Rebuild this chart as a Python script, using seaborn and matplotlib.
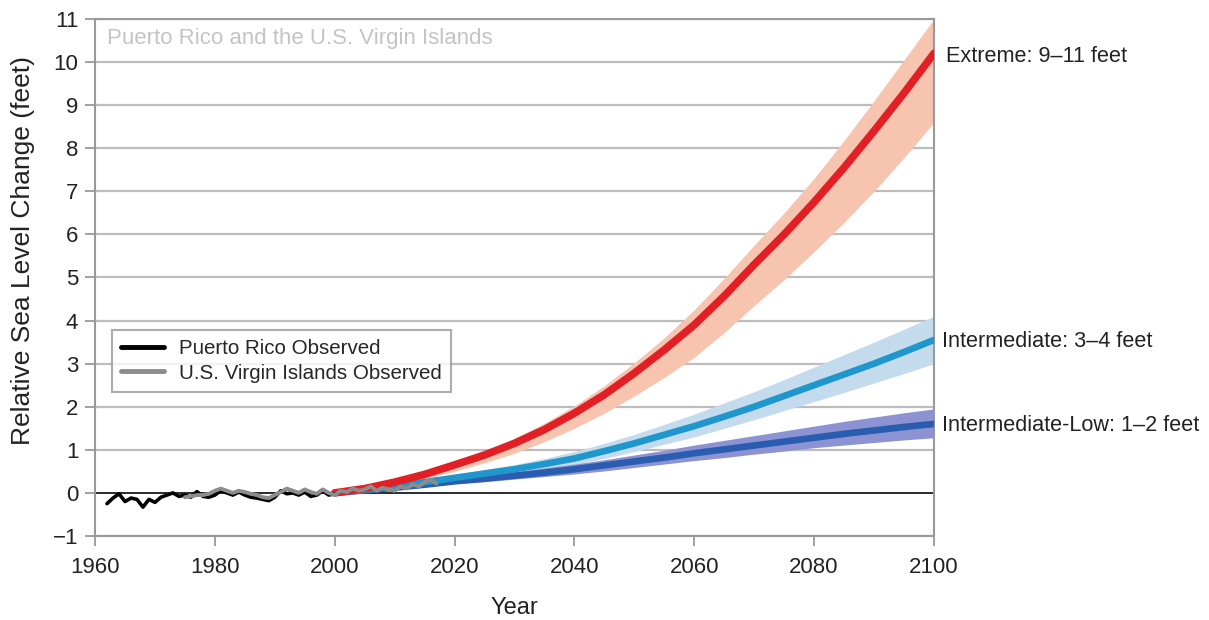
import numpy as np
import pandas as pd
import matplotlib
matplotlib.use("Agg")
import matplotlib.pyplot as plt
import seaborn as sns

# Observed relative sea level (feet)
pr_years = list(range(1962, 2001))
pr_values = [-0.25, -0.12, -0.02, -0.20, -0.12, -0.15, -0.33, -0.15, -0.22, -0.10,
             -0.05, 0.00, -0.08, -0.05, -0.10, 0.03, -0.08, -0.10, -0.05, 0.05,
             0.00, -0.05, 0.02, -0.05, -0.10, -0.12, -0.15, -0.18, -0.10, 0.05,
             -0.02, 0.00, -0.05, 0.02, -0.08, -0.05, 0.05, -0.05, -0.02]

vi_years = list(range(1975, 2018))
vi_values = [-0.10, -0.08, -0.05, -0.05, -0.02, 0.05, 0.10, 0.05, 0.00, 0.05,
             0.02, -0.02, -0.05, -0.10, -0.12, -0.05, 0.02, 0.10, 0.05, 0.00,
             0.08, 0.02, -0.02, 0.08, 0.00, -0.05, 0.05, 0.02, 0.10, 0.05,
             0.08, 0.15, 0.05, 0.12, 0.08, 0.05, 0.15, 0.10, 0.20, 0.15,
             0.25, 0.30, 0.22]

# Scenario projections (feet), every 5 years
proj_years = list(range(2000, 2101, 5))
extreme_mid = [0.00, 0.10, 0.25, 0.43, 0.65, 0.88, 1.15, 1.47, 1.85, 2.28, 2.78,
               3.32, 3.90, 4.57, 5.30, 6.00, 6.75, 7.55, 8.40, 9.28, 10.20]
extreme_hi = [0.05, 0.15, 0.30, 0.50, 0.72, 0.97, 1.27, 1.62, 2.02, 2.49, 3.02,
              3.60, 4.25, 4.98, 5.75, 6.50, 7.30, 8.18, 9.10, 10.05, 11.00]
extreme_lo = [-0.05, 0.06, 0.18, 0.33, 0.50, 0.70, 0.92, 1.19, 1.50, 1.85, 2.25,
              2.68, 3.15, 3.72, 4.35, 4.95, 5.60, 6.28, 7.00, 7.78, 8.60]

inter_mid = [0.00, 0.07, 0.15, 0.25, 0.35, 0.45, 0.55, 0.67, 0.80, 0.97, 1.15,
             1.35, 1.55, 1.77, 2.00, 2.25, 2.50, 2.75, 3.00, 3.27, 3.55]
inter_hi = [0.03, 0.11, 0.20, 0.31, 0.42, 0.54, 0.66, 0.80, 0.96, 1.15, 1.36,
            1.59, 1.83, 2.09, 2.35, 2.63, 2.92, 3.21, 3.50, 3.80, 4.10]
inter_lo = [-0.03, 0.03, 0.10, 0.19, 0.28, 0.36, 0.45, 0.55, 0.66, 0.80, 0.96,
            1.13, 1.30, 1.50, 1.70, 1.91, 2.12, 2.33, 2.55, 2.77, 3.00]

low_mid = [0.00, 0.06, 0.12, 0.19, 0.27, 0.33, 0.40, 0.47, 0.55, 0.64, 0.73,
           0.82, 0.92, 1.01, 1.10, 1.19, 1.28, 1.37, 1.45, 1.53, 1.60]
low_hi = [0.03, 0.09, 0.16, 0.24, 0.33, 0.41, 0.49, 0.58, 0.67, 0.77, 0.88,
          0.99, 1.11, 1.22, 1.33, 1.44, 1.55, 1.66, 1.76, 1.86, 1.95]
low_lo = [-0.03, 0.03, 0.08, 0.14, 0.21, 0.26, 0.32, 0.38, 0.44, 0.51, 0.59,
          0.67, 0.75, 0.82, 0.90, 0.97, 1.05, 1.11, 1.17, 1.23, 1.28]

scenario_labels = ["Extreme: 9\u201311 feet", "Intermediate: 3\u20134 feet",
                   "Intermediate-Low: 1\u20132 feet"]

sns.set_theme(style="white")
plt.rcParams["font.family"] = ["Liberation Sans", "DejaVu Sans"]

fig = plt.figure(figsize=(12.09, 6.2), dpi=100)
ax = fig.add_axes([0.0786, 0.1355, 0.6939, 0.8339])

ax.set_xlim(1960, 2100)
ax.set_ylim(-1, 11)

# horizontal grid
for v in range(-1, 12):
    if v != 0:
        ax.axhline(v, color="#bdbdbd", lw=1.6, zorder=0)
ax.axhline(0, color="#1a1a1a", lw=1.3, zorder=1)

scenarios = [
    (extreme_mid, extreme_lo, extreme_hi, "#e31f26", "#f7c4b0", 5.5),
    (inter_mid, inter_lo, inter_hi, "#1f97cc", "#c4dbee", 4.8),
    (low_mid, low_lo, low_hi, "#2a5db0", "#8d92d2", 4.8),
]

for mid, lo, hi, lc, bc, lw in scenarios:
    ax.fill_between(proj_years, lo, hi, color=bc, lw=0, zorder=2)
for mid, lo, hi, lc, bc, lw in reversed(scenarios):
    df = pd.DataFrame({"year": proj_years, "value": mid})
    sns.lineplot(data=df, x="year", y="value", ax=ax, color=lc, lw=lw,
                 zorder=3, legend=False)

pr_df = pd.DataFrame({"year": pr_years, "value": pr_values})
vi_df = pd.DataFrame({"year": vi_years, "value": vi_values})
sns.lineplot(data=pr_df, x="year", y="value", ax=ax, color="#000000", lw=2.6,
             zorder=4, label="Puerto Rico Observed")
sns.lineplot(data=vi_df, x="year", y="value", ax=ax, color="#8c8c8c", lw=2.8,
             zorder=5, label="U.S. Virgin Islands Observed")

leg = ax.legend(loc="upper left", bbox_to_anchor=(0.02, 0.398), fontsize=14.8,
                frameon=True, fancybox=False, edgecolor="#999999",
                handlelength=2.1, borderpad=0.45, labelspacing=0.25,
                handletextpad=0.7, borderaxespad=0)
leg.get_frame().set_linewidth(1.5)
for line in leg.get_lines():
    line.set_linewidth(3.5)

# scenario end labels
label_offsets = [(9, -2), (6, -1), (6, -1)]
for mid, label, off in zip([extreme_mid, inter_mid, low_mid], scenario_labels,
                           label_offsets):
    ax.annotate(label, xy=(2100, mid[-1]), xytext=off,
                textcoords="offset points", ha="left", va="center",
                fontsize=15.6, color="#222222", annotation_clip=False)

ax.text(0.014, 0.962, "Puerto Rico and the U.S. Virgin Islands",
        transform=ax.transAxes, ha="left", va="center", fontsize=16,
        color="#c4c4c4", zorder=6)

ax.set_xticks(range(1960, 2101, 20))
ax.set_yticks(range(-1, 12))
ax.set_yticklabels(["\u22121" if v < 0 else str(v) for v in range(-1, 12)])
ax.tick_params(axis="both", which="major", labelsize=16, colors="#222222",
               length=7, width=1.3, direction="out", color="#999999",
               bottom=True, left=True)
ax.tick_params(axis="x", pad=8)
ax.tick_params(axis="y", pad=5)
ax.set_xlabel("Year", fontsize=17, color="#222222", labelpad=14)
ax.set_ylabel("Relative Sea Level Change (feet)", fontsize=19,
              color="#222222")
ax.yaxis.set_label_coords(-0.071, 0.553)

for s in ax.spines.values():
    s.set_color("#999999")
    s.set_linewidth(1.5)

fig.savefig("out.png", dpi=100)
